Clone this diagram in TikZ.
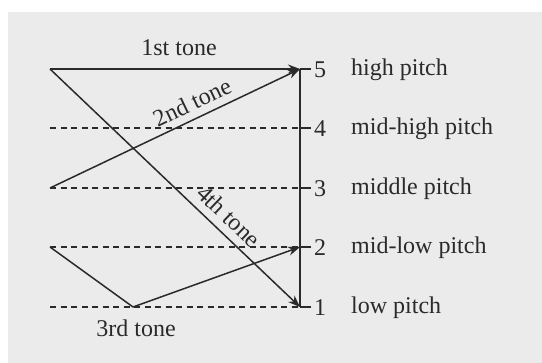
\documentclass[tikz,border=0pt]{standalone}
\usepackage{fontspec}
\setmainfont{Liberation Serif}
\usetikzlibrary{arrows.meta}
\definecolor{bg}{HTML}{EBEBEB}
\definecolor{ink}{HTML}{2A2A2A}
\tikzset{
  ln/.style={draw=ink, line width=1.5pt},
  tone/.style={ln, -{Stealth[length=12pt,width=9pt]}},
  dashln/.style={draw=ink, line width=1.3pt, dash pattern=on 6pt off 4.5pt},
  txt/.style={text=ink, font=\fontsize{24}{28}\selectfont, inner sep=0pt},
  num/.style={txt, anchor=west},
  lab/.style={txt, anchor=west},
}
\begin{document}
\begin{tikzpicture}[x=1pt,y=-1pt]
\useasboundingbox (0,0) rectangle (542,363);
\fill[bg] (8,12) rectangle (542,363);
% points
\coordinate (L5) at (50,69);
\coordinate (L4) at (50,128);
\coordinate (L3) at (50,188);
\coordinate (L2) at (50,247);
\coordinate (L1) at (50,307);
\coordinate (A5) at (300,69);
\coordinate (A4) at (300,128);
\coordinate (A3) at (300,188);
\coordinate (A2) at (300,247);
\coordinate (A1) at (300,307);
\coordinate (V3) at (133,307);
% dashed levels
\draw[dashln] (L4) -- (A4);
\draw[dashln] (L3) -- (A3);
\draw[dashln] (L2) -- (A2);
\draw[dashln] (L1) -- (A1);
% axis
\draw[ln] (A5) -- (A1);
\foreach \i in {1,...,5} { \draw[ln] (A\i) -- ++(11,0); }
% numbers
\node[num] (n5) at (314,70) {5};
\node[num] (n4) at (314,129) {4};
\node[num] (n3) at (314,189) {3};
\node[num] (n2) at (314,248) {2};
\node[num] (n1) at (314,308) {1};
% labels
\node[lab] (p5) at (351,70) {high pitch};
\node[lab] (p4) at (351,129) {mid-high pitch};
\node[lab] (p3) at (351,189) {middle pitch};
\node[lab] (p2) at (351,248) {mid-low pitch};
\node[lab] (p1) at (351,308) {low pitch};
% tones
\draw[tone] (L5) -- (A5);
\draw[tone] (L3) -- (A5);
\draw[ln] (L2) -- (V3);
\draw[tone] (V3) -- (A2);
\draw[tone] (L5) -- (A1);
% tone labels
\node[txt] (t1) at (179,48) {1st tone};
\node[txt, rotate=25.5] (t2) at (192,102) {2nd tone};
\node[txt] (t3) at (136,328) {3rd tone};
\node[txt, rotate=-43.6] (t4) at (229,216) {4th tone};
\end{tikzpicture}
\end{document}
